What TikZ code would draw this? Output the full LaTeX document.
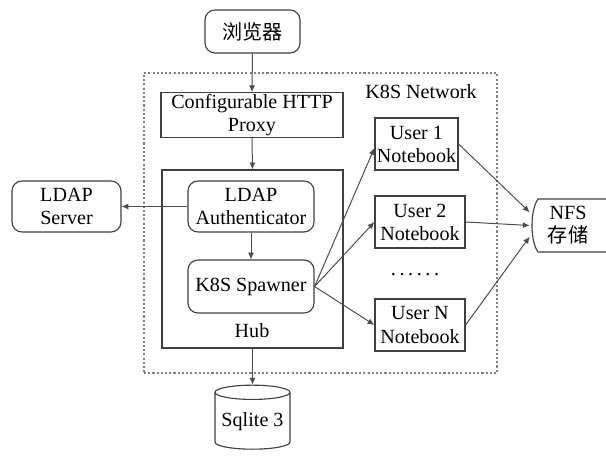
\documentclass[tikz,border=0pt]{standalone}
\usepackage{fontspec}
\setmainfont{Liberation Serif}
\newfontfamily\cjk{Noto Sans CJK SC}
\usetikzlibrary{shapes.geometric, arrows.meta, positioning}
\tikzset{
    base/.style={draw=black!75, line width=0.8pt, align=center, inner sep=1pt,
                 font=\rmfamily\fontsize{14.3}{16.4}\selectfont},
    roundbox/.style={base, rectangle, rounded corners=2.5mm},
    plainbox/.style={base, rectangle},
    netbox/.style={rectangle, draw=black!50, line width=0.9pt,
                   dash pattern=on 1.5pt off 1.5pt},
    dbnode/.style={base, cylinder, shape border rotate=90, aspect=0.22},
    arrow/.style={-{Latex[length=1.7mm, width=1.5mm]}, draw=black!70, line width=0.7pt},
    lbl/.style={font=\rmfamily\fontsize{14.3}{16.4}\selectfont, inner sep=0pt},
}

\begin{document}
\begin{tikzpicture}[x=0.025cm, y=-0.025cm]

    \useasboundingbox[fill=white] (0,0) rectangle (606,457);

    % ── Network frame ──────────────────────────────────────────────
    \node[netbox, minimum width=8.825cm, minimum height=7.5cm] (net) at (320.5,223) {};
    \node[lbl] (netlbl) at (421,92) {K8S Network};

    % ── Browser, proxy, hub ────────────────────────────────────────
    \node[roundbox, minimum width=2.375cm, minimum height=1.075cm] (browser) at (252.5,31.5) {\cjk 浏览器};
    \node[plainbox, minimum width=4.55cm, minimum height=1.05cm] (proxy) at (252,115) {Configurable HTTP\\Proxy};
    \node[plainbox, minimum width=4.525cm, minimum height=4.45cm] (hub) at (252.5,259) {};
    \node[lbl] (hublbl) at (252,331) {Hub};
    \node[roundbox, minimum width=3.15cm, minimum height=1.275cm] (auth) at (251,206.5) {LDAP\\Authenticator};
    \node[roundbox, minimum width=3.15cm, minimum height=1.325cm] (spawner) at (251,286.5) {K8S Spawner};
    \node[roundbox, minimum width=2.725cm, minimum height=1.275cm] (ldapsrv) at (66.5,206.5) {LDAP\\Server};

    % ── Notebooks ──────────────────────────────────────────────────
    \node[plainbox, minimum width=2.075cm, minimum height=1.3cm] (user1) at (416.5,144) {User 1\\Notebook};
    \node[plainbox, minimum width=2.25cm, minimum height=1.3cm] (user2) at (420,222) {User 2\\Notebook};
    \node[plainbox, minimum width=2.25cm, minimum height=1.3cm] (usern) at (420,325) {User N\\Notebook};
    \node[lbl] (dots) at (415,275) {.\hspace{0.9mm}.\hspace{0.9mm}.\hspace{0.9mm}.\hspace{0.9mm}.\hspace{0.9mm}.};

    % ── Storage ────────────────────────────────────────────────────
    \node[lbl, minimum width=1.9cm, minimum height=1.325cm, align=center] (nfs) at (568,225.5) {NFS\\{\cjk 存储}};
    \draw[draw=black!75, line width=0.8pt]
        (606,199) -- (538,199) .. controls (530,210) and (530,241) .. (538,252) -- (606,252);
    \node[dbnode, minimum width=1.875cm, minimum height=1.6cm] (sqlite) at (252.5,422) {Sqlite 3};

    % ── Flows ──────────────────────────────────────────────────────
    \draw[arrow] (browser.south) -- (proxy.north);
    \draw[arrow] (proxy.south) -- (hub.north);
    \draw[arrow] (auth.west) -- (ldapsrv.east);
    \draw[arrow] (auth.south) -- (spawner.north);
    \draw[arrow] (hub.south) -- (sqlite.top);

    \draw[arrow] (spawner.east) -- ([yshift=-0.1cm]user1.west);
    \draw[arrow] (spawner.east) -- (user2.west);
    \draw[arrow] (spawner.east) -- (usern.west);

    \draw[arrow] (user1.east) -- ([yshift=0.33cm]nfs.west);
    \draw[arrow] (user2.east) -- (nfs.west);
    \draw[arrow] (usern.east) -- ([yshift=-0.28cm]nfs.west);

\end{tikzpicture}
\end{document}
